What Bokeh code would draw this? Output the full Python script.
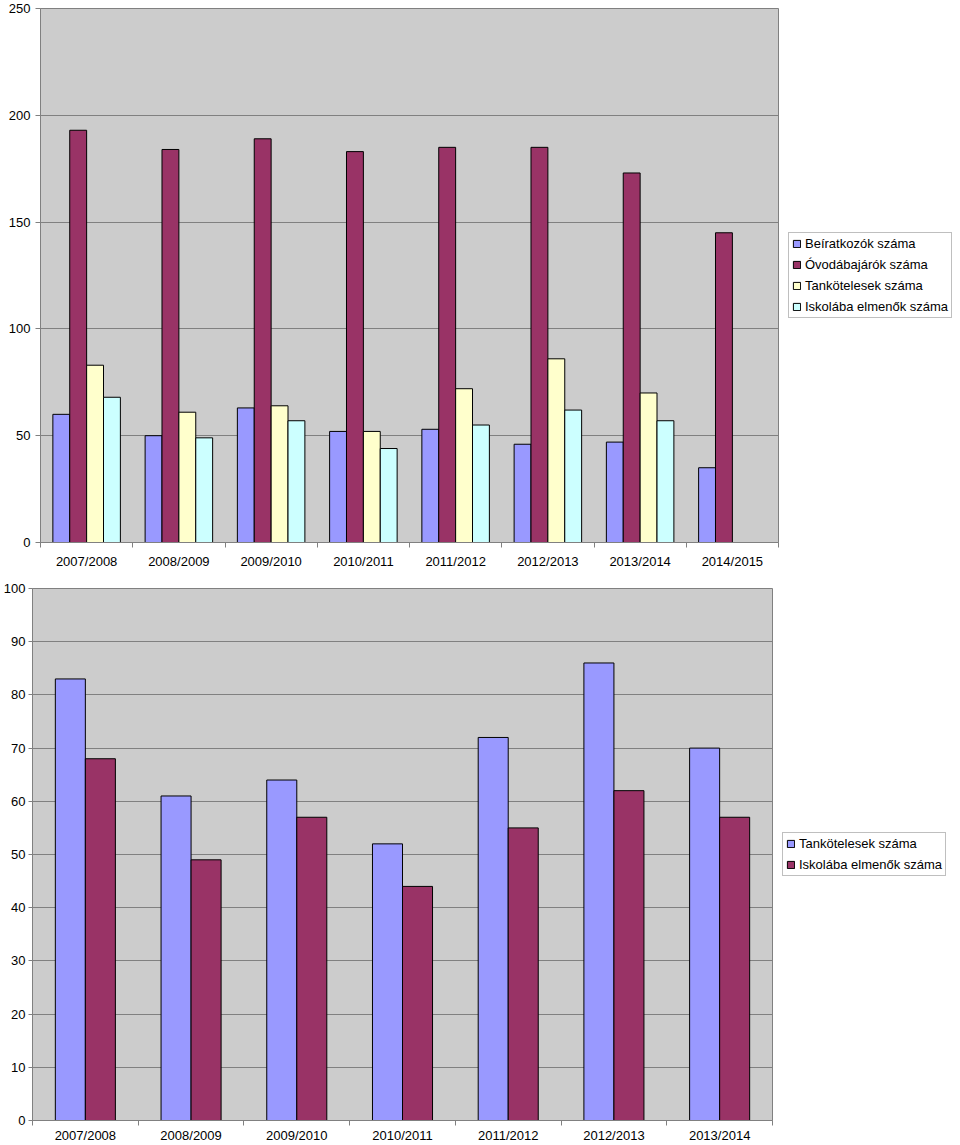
from bokeh.plotting import figure
from bokeh.models import (Range1d, FixedTicker, LinearAxis, Legend, LegendItem,
                          ColumnDataSource, Grid)
from bokeh.embed import file_html
from bokeh.resources import INLINE

# ---------------- data ----------------
years_top = ["2007/2008", "2008/2009", "2009/2010", "2010/2011",
             "2011/2012", "2012/2013", "2013/2014", "2014/2015"]
beiratkozok = [60, 50, 63, 52, 53, 46, 47, 35]
ovodabajarok = [193, 184, 189, 183, 185, 185, 173, 145]
tankoteles = [83, 61, 64, 52, 72, 86, 70]
iskolaba = [68, 49, 57, 44, 55, 62, 57]

years_bottom = ["2007/2008", "2008/2009", "2009/2010", "2010/2011",
                "2011/2012", "2012/2013", "2013/2014"]
tankoteles_b = [83, 61, 64, 52, 72, 86, 70]
iskolaba_b = [68, 49, 57, 44, 55, 62, 57]

top_names = ["Beíratkozók száma", "Óvodábajárók száma",
             "Tankötelesek száma", "Iskolába elmenők száma"]
bottom_names = ["Tankötelesek száma", "Iskolába elmenők száma"]

FONT = "Liberation Sans"
GRAY = "#808080"
BG = "#CCCCCC"


def style_fig(p):
    p.background_fill_color = BG
    p.border_fill_color = "white"
    p.outline_line_color = GRAY
    p.outline_line_width = 1


def make_xaxis(p, labels, standoff):
    n = len(labels)
    centers = [i + 0.5 for i in range(n)]
    ax = LinearAxis(ticker=FixedTicker(ticks=centers, minor_ticks=list(range(n + 1))))
    ax.major_label_overrides = {c: lab for c, lab in zip(centers, labels)}
    ax.axis_line_color = GRAY
    ax.major_tick_line_color = None
    ax.major_tick_out = 0
    ax.major_tick_in = 0
    ax.minor_tick_line_color = GRAY
    ax.minor_tick_out = 5
    ax.minor_tick_in = 0
    ax.major_label_standoff = standoff
    ax.major_label_text_font = FONT
    ax.major_label_text_font_size = "13px"
    ax.major_label_text_color = "#000000"
    p.add_layout(ax, "below")


def make_yaxis(p, ticks, tick_out, standoff):
    ax = LinearAxis(ticker=FixedTicker(ticks=ticks))
    ax.axis_line_color = GRAY
    ax.major_tick_line_color = GRAY
    ax.major_tick_out = tick_out
    ax.major_tick_in = 0
    ax.minor_tick_line_color = None
    ax.major_label_standoff = standoff
    ax.major_label_text_font = FONT
    ax.major_label_text_font_size = "13px"
    ax.major_label_text_color = "#000000"
    p.add_layout(ax, "left")
    g = Grid(dimension=1, ticker=FixedTicker(ticks=ticks))
    g.grid_line_color = GRAY
    g.grid_line_width = 1
    p.add_layout(g)


def make_legend(p, items):
    lg = Legend(items=items, location="left")
    lg.margin = 10
    lg.padding = 3
    lg.spacing = 6
    lg.label_height = 15
    lg.glyph_height = 9
    lg.glyph_width = 9
    lg.label_standoff = 4
    lg.label_text_font = FONT
    lg.label_text_font_size = "13px"
    lg.label_text_color = "#000000"
    lg.border_line_color = GRAY
    lg.border_line_width = 1
    lg.background_fill_color = "white"
    lg.background_fill_alpha = 1
    p.add_layout(lg, "right")


# ---------------- top chart ----------------
p1 = figure(frame_width=738, frame_height=534,
            x_range=Range1d(0, 8), y_range=Range1d(0, 250),
            x_axis_type=None, y_axis_type=None,
            output_backend="svg", toolbar_location=None,
            min_border_left=40, min_border_right=0,
            min_border_top=8, min_border_bottom=38)
style_fig(p1)

w1 = 0.183
colors_top = ["#9999FF", "#993366", "#FFFFCC", "#CCFFFF"]
series_top = [beiratkozok, ovodabajarok, tankoteles, iskolaba]
items1 = []
for k, (vals, col, name) in enumerate(zip(series_top, colors_top, top_names)):
    off = (k - 1.5) * w1
    src = ColumnDataSource(dict(x=[i + 0.5 + off for i in range(len(vals))], top=vals))
    r = p1.vbar(x="x", top="top", bottom=0, width=w1, source=src,
                fill_color=col, line_color="#000000", line_width=1)
    items1.append(LegendItem(label=name, renderers=[r]))

make_yaxis(p1, [0, 50, 100, 150, 200, 250], 5, 5)
make_xaxis(p1, years_top, 6)
make_legend(p1, items1)

# ---------------- bottom chart ----------------
p2 = figure(frame_width=740, frame_height=532,
            x_range=Range1d(0, 7), y_range=Range1d(0, 100),
            x_axis_type=None, y_axis_type=None,
            output_backend="svg", toolbar_location=None,
            min_border_left=30, min_border_right=0,
            min_border_top=8, min_border_bottom=24)
style_fig(p2)

w2 = 0.284
colors_bottom = ["#9999FF", "#993366"]
series_bottom = [tankoteles_b, iskolaba_b]
items2 = []
for k, (vals, col, name) in enumerate(zip(series_bottom, colors_bottom, bottom_names)):
    off = (k - 0.5) * w2
    src = ColumnDataSource(dict(x=[i + 0.5 + off for i in range(len(vals))], top=vals))
    r = p2.vbar(x="x", top="top", bottom=0, width=w2, source=src,
                fill_color=col, line_color="#000000", line_width=1)
    items2.append(LegendItem(label=name, renderers=[r]))

make_yaxis(p2, list(range(0, 101, 10)), 4, 3)
make_xaxis(p2, years_bottom, 2)
make_legend(p2, items2)

open("out.html", "w").write(file_html([p1, p2], INLINE))
